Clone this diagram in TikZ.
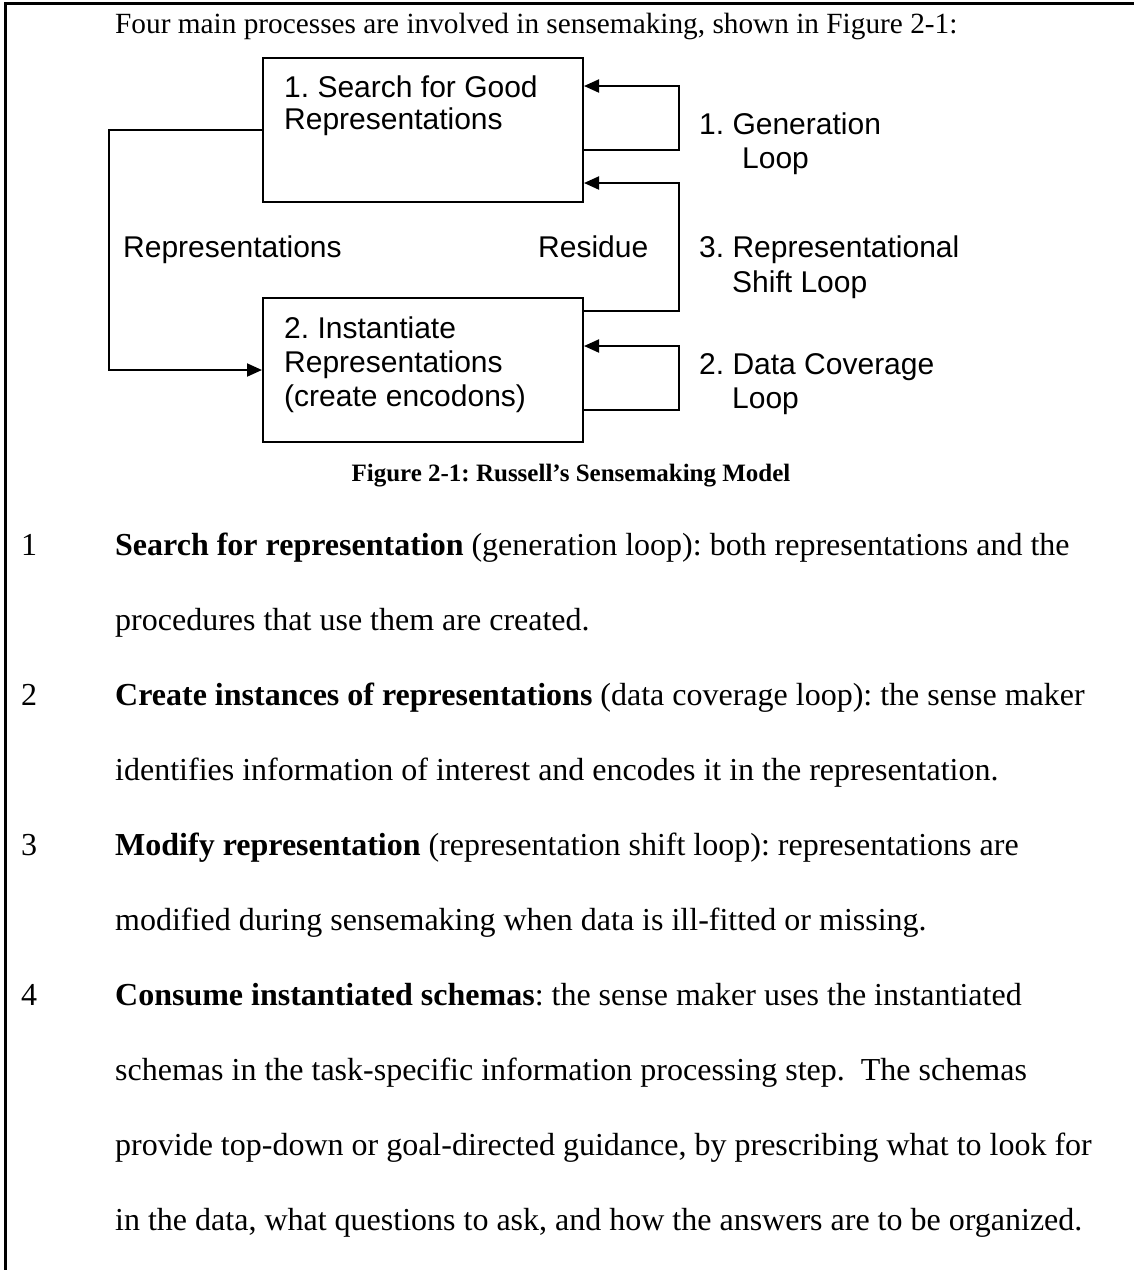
\documentclass[tikz,border=0pt]{standalone}
\usepackage{fontspec}
\setmainfont{Liberation Serif}
\newfontfamily\arialfont{Liberation Sans}
\usetikzlibrary{arrows.meta}
\frenchspacing
\begin{document}
\begin{tikzpicture}[x=1pt,y=-1pt,
  box/.style={draw,line width=2pt,minimum width=320pt,minimum height=144pt,inner sep=0pt},
  lbl/.style={anchor=base west,inner sep=0pt,font=\arialfont\fontsize{30}{34}\selectfont},
  body/.style={anchor=base west,inner sep=0pt,font=\fontsize{32}{38}\selectfont},
  arr/.style={line width=2pt,-{Triangle[length=15pt,width=13pt]}}]
\useasboundingbox (0,0) rectangle (1134,1270);
% page frame
\draw[line width=3pt] (5,1270) -- (5,3) -- (1134,3);
% intro
\node[body,font=\fontsize{29.3}{36}\selectfont] (intro) at (115,33) {Four main processes are involved in sensemaking, shown in Figure 2-1:};
% boxes
\node[box] (b1) at (423,130) {};
\node[box] (b2) at (423,370) {};
\node[lbl] (t1a) at (284,97) {1. Search for Good};
\node[lbl] (t1b) at (284,129) {Representations};
\node[lbl] (t2a) at (284,338) {2. Instantiate};
\node[lbl] (t2b) at (284,372) {Representations};
\node[lbl] (t2c) at (284,406) {(create encodons)};
% labels
\node[lbl] (lrep) at (123,257) {Representations};
\node[lbl] (lres) at (538,257) {Residue};
\node[lbl] (lg1) at (699,134) {1. Generation};
\node[lbl] (lg2) at (742,168) {Loop};
\node[lbl] (ls1) at (699,257) {3. Representational};
\node[lbl] (ls2) at (732,292) {Shift Loop};
\node[lbl] (ld1) at (699,374) {2. Data Coverage};
\node[lbl] (ld2) at (732,408) {Loop};
% connectors
\draw[arr] (b1.west |- 0,130) -- (109,130) |- (b2.west |- 0,370);
\draw[arr] (b1.east |- 0,150) -- (679,150) |- (b1.east |- 0,86);
\draw[arr] (b2.east |- 0,311) -- (679,311) |- (b1.east |- 0,183);
\draw[arr] (b2.east |- 0,410) -- (679,410) |- (b2.east |- 0,346);
% caption
\node[anchor=base,inner sep=0pt,font=\bfseries\fontsize{25}{30}\selectfont] (cap) at (571,481) {Figure 2-1: Russell’s Sensemaking Model};
% list
\node[body] (n1) at (21,555) {1};
\node[body] (l0) at (115,555) {\textbf{Search for representation} (generation loop): both representations and the};
\node[body] (l1) at (115,630) {procedures that use them are created.};
\node[body] (n2) at (21,705) {2};
\node[body] (l2) at (115,705) {\textbf{Create instances of representations} (data coverage loop): the sense maker};
\node[body] (l3) at (115,780) {identifies information of interest and encodes it in the representation.};
\node[body] (n3) at (21,855) {3};
\node[body] (l4) at (115,855) {\textbf{Modify representation} (representation shift loop): representations are};
\node[body] (l5) at (115,930) {modified during sensemaking when data is ill-fitted or missing.};
\node[body] (n4) at (21,1005) {4};
\node[body] (l6) at (115,1005) {\textbf{Consume instantiated schemas}: the sense maker uses the instantiated};
\node[body] (l7) at (115,1080) {schemas in the task-specific information processing step.\ \ The schemas};
\node[body] (l8) at (115,1155) {provide top-down or goal-directed guidance, by prescribing what to look for};
\node[body] (l9) at (115,1230) {in the data, what questions to ask, and how the answers are to be organized.};
\end{tikzpicture}
\end{document}
